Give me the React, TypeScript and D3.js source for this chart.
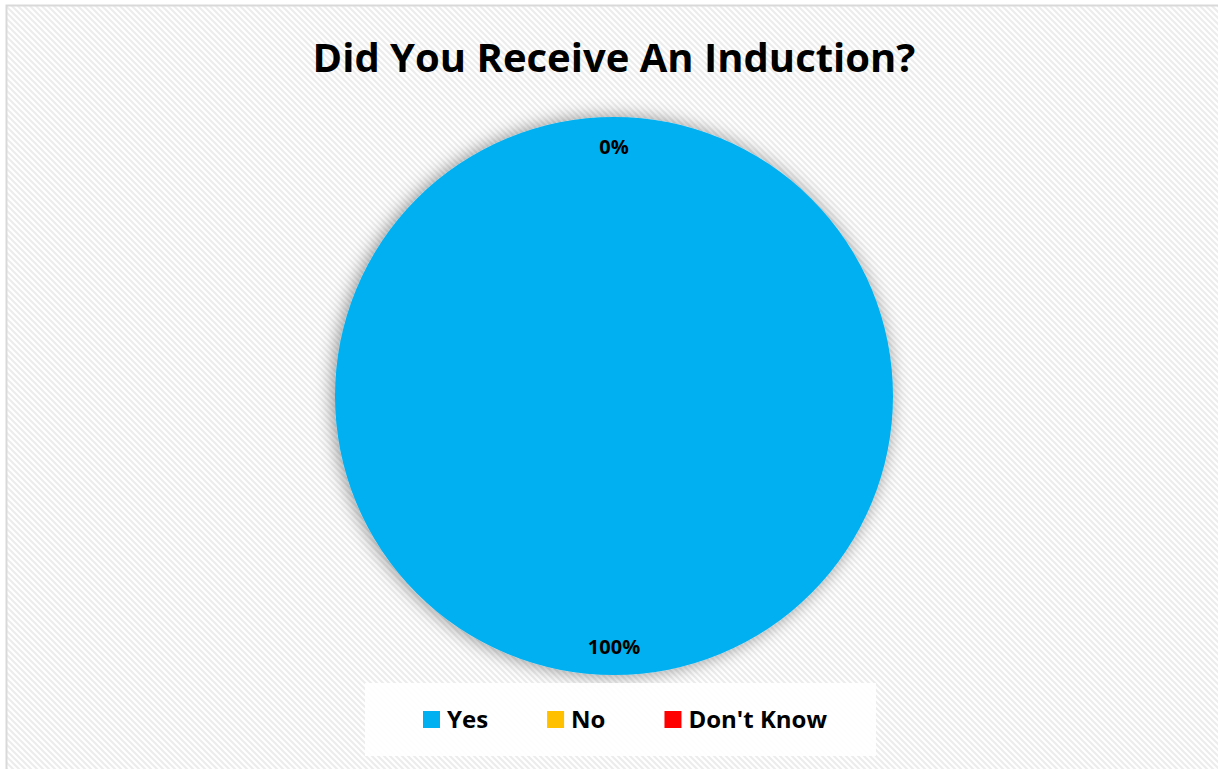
import React, { useEffect, useRef } from "react";
import * as d3 from "d3";

const categories = ["Yes", "No", "Don't Know"];
const values = [100, 0, 0];
const colors = ["#00B0F0", "#FFC000", "#FF0000"];
const percentLabels = ["100%", "0%", "0%"];
const title = "Did You Receive An Induction?";

const W = 1218;
const H = 769;
const FONT = "'Open Sans', 'DejaVu Sans', sans-serif";

export default function App() {
  const ref = useRef<SVGSVGElement>(null);

  useEffect(() => {
    const svg = d3.select(ref.current);
    svg.selectAll("*").remove();

    const defs = svg.append("defs");
    const pat = defs
      .append("pattern")
      .attr("id", "diag")
      .attr("width", 6)
      .attr("height", 6)
      .attr("patternUnits", "userSpaceOnUse");
    pat.append("rect").attr("width", 6).attr("height", 6).attr("fill", "#ffffff");
    pat
      .append("path")
      .attr("d", "M-1,-1 L7,7 M-1,5 L1,7 M5,-1 L7,1")
      .attr("stroke", "#ececec")
      .attr("stroke-width", 2);

    const filt = defs
      .append("filter")
      .attr("id", "shadow")
      .attr("x", "-20%")
      .attr("y", "-20%")
      .attr("width", "140%")
      .attr("height", "140%");
    filt
      .append("feDropShadow")
      .attr("dx", -2)
      .attr("dy", 0)
      .attr("stdDeviation", 9)
      .attr("flood-color", "#000")
      .attr("flood-opacity", 0.42);

    // chart area
    svg
      .append("rect")
      .attr("x", 6.5)
      .attr("y", 5.5)
      .attr("width", W + 20)
      .attr("height", H + 20)
      .attr("fill", "url(#diag)")
      .attr("stroke", "#d9d9d9")
      .attr("stroke-width", 2);

    // title
    svg
      .append("text")
      .attr("x", 614)
      .attr("y", 72)
      .attr("text-anchor", "middle")
      .attr("font-family", FONT)
      .attr("font-weight", 700)
      .attr("font-size", 40)
      .attr("fill", "#000")
      .text(title);

    // pie
    const cx = 614;
    const cy = 396;
    const R = 279;
    const data = categories.map((c, i) => ({ c, v: values[i], color: colors[i], label: percentLabels[i] }));
    const pie = d3
      .pie<any>()
      .sort(null)
      .value((d: any) => d.v);
    const arcs = pie(data);
    const arc = d3.arc<any>().innerRadius(0).outerRadius(R);
    const labelArc = d3.arc<any>().innerRadius(250).outerRadius(250);

    const g = svg.append("g").attr("transform", `translate(${cx},${cy})`);
    const slices = g.append("g").attr("filter", "url(#shadow)");
    slices
      .selectAll("path")
      .data(arcs)
      .enter()
      .append("path")
      .attr("d", arc as any)
      .attr("fill", (d: any) => d.data.color);

    const seen = new Set<string>();
    g.selectAll("text.lbl")
      .data(arcs.filter((a: any) => {
        const key = labelArc.centroid(a).map((n) => Math.round(n)).join(",");
        if (seen.has(key)) return false;
        seen.add(key);
        return true;
      }))
      .enter()
      .append("text")
      .attr("class", "lbl")
      .attr("transform", (d: any) => {
        const [x, y] = labelArc.centroid(d);
        return `translate(${x},${y})`;
      })
      .attr("text-anchor", "middle")
      .attr("dominant-baseline", "central")
      .attr("font-family", FONT)
      .attr("font-weight", 700)
      .attr("font-size", 20)
      .attr("fill", "#000")
      .text((d: any) => d.data.label);

    // legend
    svg
      .append("rect")
      .attr("x", 365)
      .attr("y", 683)
      .attr("width", 511)
      .attr("height", 73)
      .attr("fill", "#ffffff")
      .attr("fill-opacity", 0.9);

    const lg = svg.append("g");
    let x = 423;
    const sq = 17;
    data.forEach((d) => {
      lg.append("rect")
        .attr("x", x)
        .attr("y", 711)
        .attr("width", sq)
        .attr("height", sq)
        .attr("fill", d.color);
      const t = lg
        .append("text")
        .attr("x", x + 24)
        .attr("y", 728)
        .attr("font-family", FONT)
        .attr("font-weight", 700)
        .attr("font-size", 24)
        .attr("fill", "#000")
        .text(d.c);
      const w = (t.node() as SVGTextElement).getComputedTextLength();
      x = x + 24 + w + 59;
    });
  }, []);

  return (
    <div style={{ position: "absolute", left: 0, top: 0 }}>
      <svg ref={ref} width={W} height={H} style={{ display: "block" }} />
    </div>
  );
}
